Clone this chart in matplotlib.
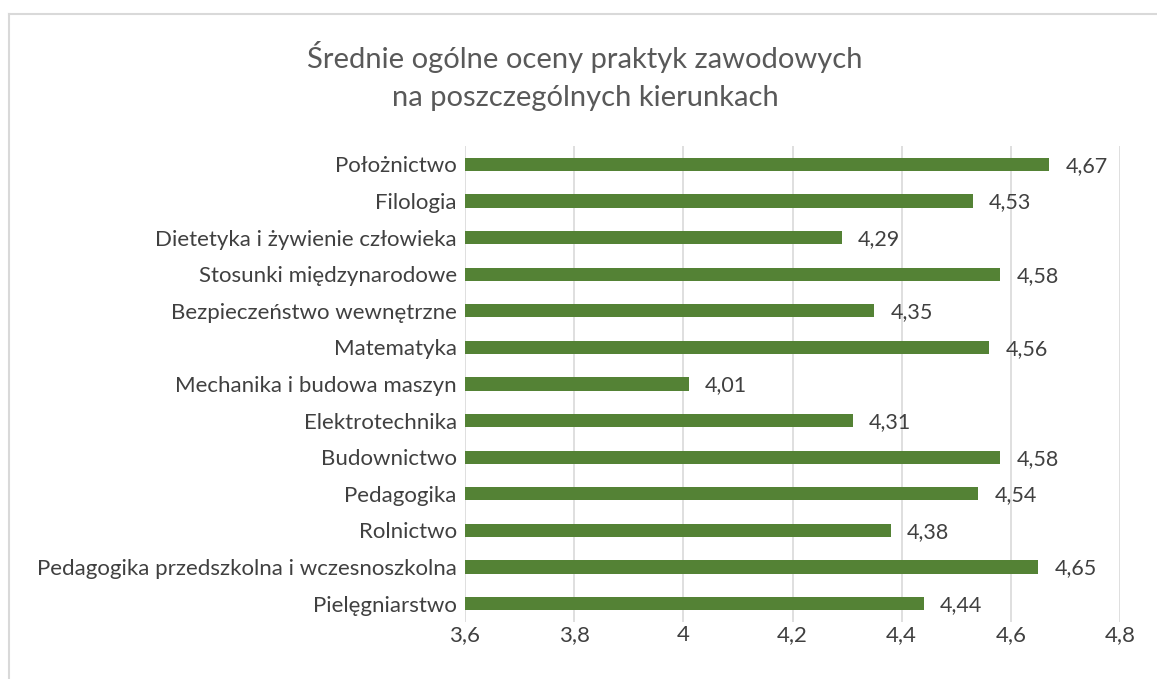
#!/usr/bin/env python3
# Średnie ogólne oceny praktyk zawodowych - horizontal bar chart

import matplotlib
matplotlib.use("Agg")
import matplotlib.pyplot as plt
from matplotlib.lines import Line2D
from matplotlib.ticker import FuncFormatter

# Data (top to bottom as shown)
kierunki = [
    "Położnictwo",
    "Filologia",
    "Dietetyka i żywienie człowieka",
    "Stosunki międzynarodowe",
    "Bezpieczeństwo wewnętrzne",
    "Matematyka",
    "Mechanika i budowa maszyn",
    "Elektrotechnika",
    "Budownictwo",
    "Pedagogika",
    "Rolnictwo",
    "Pedagogika przedszkolna i wczesnoszkolna",
    "Pielęgniarstwo",
]
oceny = [4.67, 4.53, 4.29, 4.58, 4.35, 4.56, 4.01, 4.31, 4.58, 4.54, 4.38, 4.65, 4.44]
x_ticks = [3.6, 3.8, 4.0, 4.2, 4.4, 4.6, 4.8]

plt.rcParams["font.family"] = ["Lato", "DejaVu Sans"]

W, H = 1157, 679
fig = plt.figure(figsize=(W / 100, H / 100), dpi=100)
fig.patch.set_facecolor("white")

# axes placed in pixel terms
left, right, top, bottom = 465, 1120, 146, 622
ax = fig.add_axes([left / W, 1 - bottom / H, (right - left) / W, (bottom - top) / H])

pos = list(range(len(kierunki)))[::-1]
ax.barh(pos, [v - 3.6 for v in oceny], left=3.6, height=0.36, color="#548235", zorder=3)

for p, v in zip(pos, oceny):
    ax.text(v + 0.03, p - 0.04, f"{v:.2f}".replace(".", ","), va="center", ha="left",
            fontsize=15.5, color="#404040")

ax.set_xlim(3.6, 4.8)
ax.set_ylim(-0.5, len(kierunki) - 0.5)
ax.set_xticks(x_ticks)
ax.xaxis.set_major_formatter(FuncFormatter(lambda x, _: f"{x:g}".replace(".", ",")))
ax.set_yticks(pos)
ax.set_yticklabels(kierunki)
ax.tick_params(axis="both", length=0, labelsize=16, labelcolor="#404040")
ax.tick_params(axis="x", pad=2)
ax.tick_params(axis="y", pad=6)
ax.grid(axis="x", color="#d9d9d9", linewidth=1.2, zorder=0)
for s in ax.spines.values():
    s.set_visible(False)

fig.text(585 / W, 1 - 76 / H, "Średnie ogólne oceny praktyk zawodowych\nna poszczególnych kierunkach",
         ha="center", va="center", fontsize=21, color="#595959", linespacing=1.6)

# chart border (cut at right and bottom as in reference)
fig.add_artist(Line2D([9 / W, 1.0], [1 - 14 / H, 1 - 14 / H], color="#d9d9d9", linewidth=1.5,
                      transform=fig.transFigure))
fig.add_artist(Line2D([9 / W, 9 / W], [1 - 14 / H, 0.0], color="#d9d9d9", linewidth=1.5,
                      transform=fig.transFigure))

fig.savefig("out.png", dpi=100)
